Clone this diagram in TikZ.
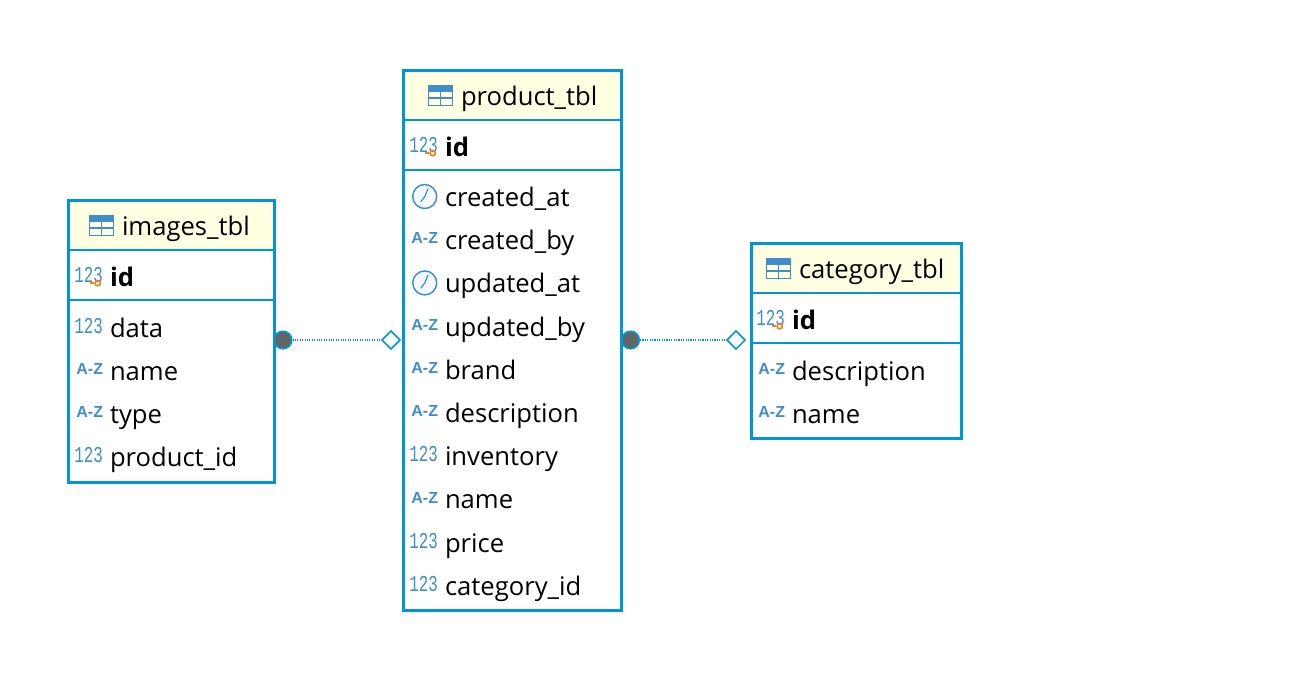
\documentclass[tikz,border=0pt]{standalone}
\usepackage{fontspec}
\setmainfont{Open Sans}
\newfontfamily\iconmono[FakeStretch=0.7]{Liberation Mono}
\newfontfamily\iconsans{Liberation Sans}
\usepackage{tikz}
\usetikzlibrary{shapes.geometric,positioning}
\definecolor{frameblue}{RGB}{0,149,213}
\definecolor{headfill}{RGB}{255,255,225}
\definecolor{iconblue}{RGB}{62,142,204}
\definecolor{keyorange}{RGB}{240,130,20}
\definecolor{dotgrey}{RGB}{100,100,100}

\begin{document}
\begin{tikzpicture}[x=.75pt,y=-.75pt,on grid,node distance=32.4pt,font=\fontsize{19.2pt}{22pt}\selectfont,
  tbl/.style={draw=frameblue,line width=2.25pt,fill=white,inner sep=0pt,outer sep=0pt},
  head/.style={fill=headfill,inner sep=0pt,minimum height=35.25pt,anchor=north,yshift=-1.125pt},
  sep/.style={draw=frameblue,line width=1.5pt},
  row/.style={anchor=west,inner sep=0pt,text height=19pt,text depth=4pt},
  idrow/.style={row,font=\fontsize{19.2pt}{22pt}\selectfont\bfseries},
  numic/.style={anchor=center,inner sep=0pt,yshift=1pt,text=iconblue,font=\iconmono\fontsize{17pt}{17pt}\selectfont},
  azic/.style={anchor=center,inner sep=0pt,yshift=1pt,text=iconblue,font=\iconsans\bfseries\fontsize{12pt}{12pt}\selectfont},
  clockic/.style={anchor=center,circle,draw=iconblue,line width=1.1pt,fill=iconblue!5,inner sep=0pt,minimum size=18pt,
    path picture={\draw[iconblue,line width=.9pt] (path picture bounding box.center)--++(2.5pt,6pt) (path picture bounding box.center)--++(-3pt,-4pt);}},
  tblic/.style={anchor=center,draw=iconblue,line width=1.1pt,inner sep=0pt,minimum width=18pt,minimum height=14.5pt,
    path picture={\fill[iconblue] (path picture bounding box.north west) rectangle ([yshift=-4.5pt]path picture bounding box.north east);
      \draw[iconblue,line width=1pt] ([yshift=-9pt]path picture bounding box.north west)--([yshift=-9pt]path picture bounding box.north east)
        ([yshift=-4pt]path picture bounding box.north)--(path picture bounding box.south);}},
  keydot/.style={anchor=center,circle,draw=keyorange,line width=1.2pt,inner sep=0pt,minimum size=4pt},
  keyline/.style={draw=keyorange,line width=1.1pt},
  dot/.style={circle,draw=frameblue,line width=1.3pt,fill=dotgrey,inner sep=0pt,minimum size=13pt},
  dia/.style={diamond,draw=frameblue,line width=1.1pt,fill=white,inner sep=0pt,minimum size=14pt},
  rel/.style={draw=frameblue,line width=.8pt,densely dotted}]
  \useasboundingbox (0,0) rectangle (1315,696);

  % images_tbl
  \node[tbl,minimum width=154.5pt,minimum height=211.5pt] (images) at (171.5,341.5) {};
  \node[head,minimum width=152.25pt] (ihead) at (images.north) {};
  \draw[sep] (ihead.south west)--(ihead.south east);
  \node[right=24pt of ihead.west,tblic] (itic) {};
  \node[right=15pt of itic.center,row] (ititle) {images\_tbl};
  \node[below=20.25pt of ihead.south west,xshift=30pt,idrow] (iid) {id};
  \node[left=15.75pt of iid.west,numic] (iidic) {123};
  \node[right=6.75pt of iidic.south,keydot] (iidkey) {};
  \coordinate[left=6pt of iidkey] (iidtail);
  \draw[keyline] (iidkey)--(iidtail);
  \coordinate[below=37.5pt of ihead.south] (isep);
  \draw[sep] (isep-|images.west)--(isep-|images.east);
  \node[below=38pt of iid.west,row] (idata) {data};
  \node[below=of idata.west,row] (iname) {name};
  \node[below=of iname.west,row] (itype) {type};
  \node[below=of itype.west,row] (iprod) {product\_id};
  \node[left=15.75pt of idata.west,numic] {123};
  \node[left=15pt of iname.west,azic] {A-Z};
  \node[left=15pt of itype.west,azic] {A-Z};
  \node[left=15.75pt of iprod.west,numic] {123};

  % product_tbl
  \node[tbl,minimum width=163.5pt,minimum height=405pt] (product) at (512.5,340.5) {};
  \node[head,minimum width=161.25pt] (phead) at (product.north) {};
  \draw[sep] (phead.south west)--(phead.south east);
  \node[right=27pt of phead.west,tblic] (ptic) {};
  \node[right=15pt of ptic.center,row] (ptitle) {product\_tbl};
  \node[below=20.25pt of phead.south west,xshift=30pt,idrow] (pid) {id};
  \node[left=15.75pt of pid.west,numic] (pidic) {123};
  \node[right=6.75pt of pidic.south,keydot] (pidkey) {};
  \coordinate[left=6pt of pidkey] (pidtail);
  \draw[keyline] (pidkey)--(pidtail);
  \coordinate[below=37.5pt of phead.south] (psep);
  \draw[sep] (psep-|product.west)--(psep-|product.east);
  \node[below=37.5pt of pid.west,row] (pcat) {created\_at};
  \node[below=of pcat.west,row] (pcby) {created\_by};
  \node[below=of pcby.west,row] (puat) {updated\_at};
  \node[below=of puat.west,row] (puby) {updated\_by};
  \node[below=of puby.west,row] (pbrand) {brand};
  \node[below=of pbrand.west,row] (pdesc) {description};
  \node[below=of pdesc.west,row] (pinv) {inventory};
  \node[below=of pinv.west,row] (pname) {name};
  \node[below=of pname.west,row] (pprice) {price};
  \node[below=of pprice.west,row] (pcatid) {category\_id};
  \node[left=15pt of pcat.west,clockic] {};
  \node[left=15pt of pcby.west,azic] {A-Z};
  \node[left=15pt of puat.west,clockic] {};
  \node[left=15pt of puby.west,azic] {A-Z};
  \node[left=15pt of pbrand.west,azic] {A-Z};
  \node[left=15pt of pdesc.west,azic] {A-Z};
  \node[left=15.75pt of pinv.west,numic] {123};
  \node[left=15pt of pname.west,azic] {A-Z};
  \node[left=15.75pt of pprice.west,numic] {123};
  \node[left=15.75pt of pcatid.west,numic] {123};

  % category_tbl
  \node[tbl,minimum width=157.5pt,minimum height=146.25pt] (category) at (856.5,341) {};
  \node[head,minimum width=155.25pt] (chead) at (category.north) {};
  \draw[sep] (chead.south west)--(chead.south east);
  \node[right=19.5pt of chead.west,tblic] (ctic) {};
  \node[right=15pt of ctic.center,row] (ctitle) {category\_tbl};
  \node[below=20.25pt of chead.south west,xshift=29.25pt,idrow] (cid) {id};
  \node[left=15.75pt of cid.west,numic] (cidic) {123};
  \node[right=6.75pt of cidic.south,keydot] (cidkey) {};
  \coordinate[left=6pt of cidkey] (cidtail);
  \draw[keyline] (cidkey)--(cidtail);
  \coordinate[below=37.5pt of chead.south] (csep);
  \draw[sep] (csep-|category.west)--(csep-|category.east);
  \node[below=38pt of cid.west,row] (cdesc) {description};
  \node[below=of cdesc.west,row] (cname) {name};
  \node[left=15pt of cdesc.west,azic] {A-Z};
  \node[left=15pt of cname.west,azic] {A-Z};

  % links
  \node[dot] (idot) at (283,340) {};
  \node[dia] (pdia) at (391,340) {};
  \node[dot] (pdot) at (630.5,340) {};
  \node[dia] (cdia) at (736,340) {};
  \draw[rel] (idot)--(pdia);
  \draw[rel] (pdot)--(cdia);
\end{tikzpicture}
\end{document}
